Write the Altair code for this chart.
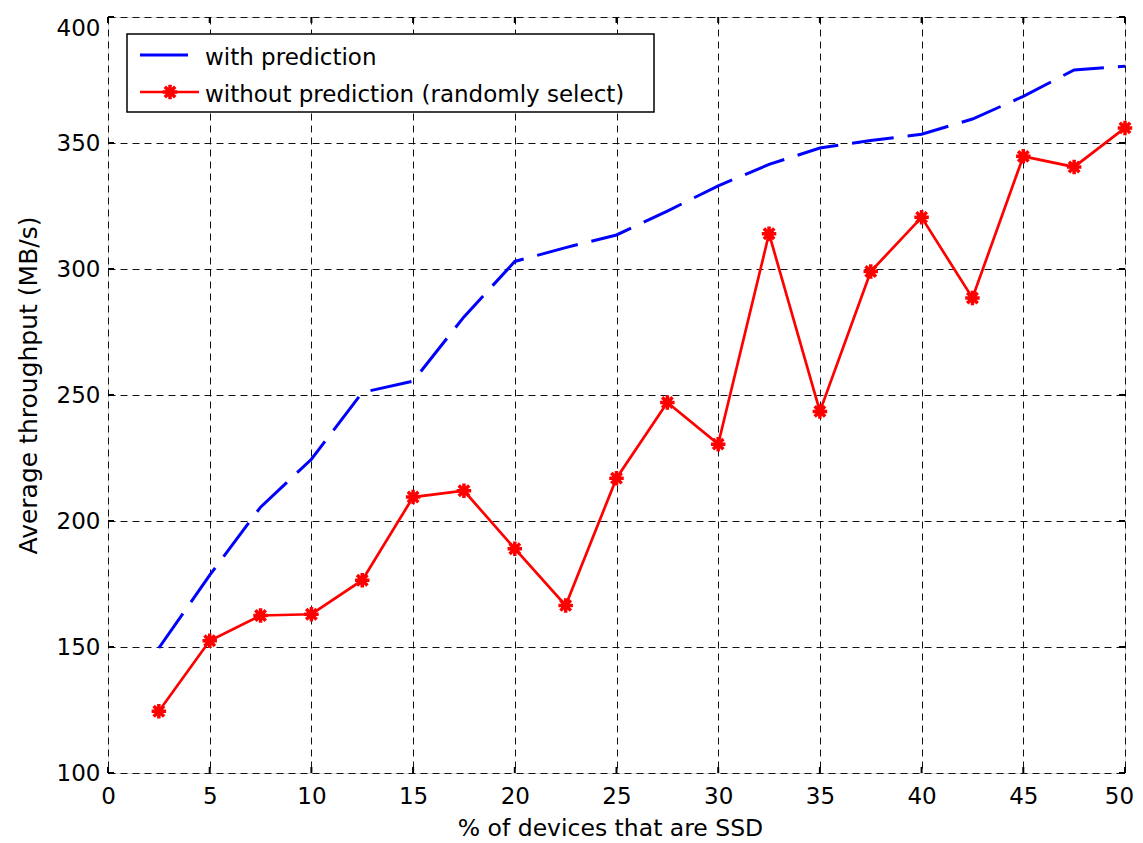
import altair as alt
import pandas as pd

# ---- data ----
ssd_pct = [2.5, 5, 7.5, 10, 12.5, 15, 17.5, 20, 22.5, 25,
           27.5, 30, 32.5, 35, 37.5, 40, 42.5, 45, 47.5, 50]
with_pred = [149.6, 178.5, 205.5, 224.5, 251, 255.5, 281, 303, 308.5, 313.5,
             323, 333, 341.5, 348, 351, 353.5, 359.5, 368.5, 379, 380.5]
without_pred = [124.5, 152.5, 162.5, 163, 176.5, 209.5, 212, 189, 166.5, 217,
                247, 230.5, 314, 243.5, 299, 320.5, 288.5, 344.7, 340.5, 356]
x_ticks = [0, 5, 10, 15, 20, 25, 30, 35, 40, 45, 50]
y_ticks = [100, 150, 200, 250, 300, 350, 400]
series_names = ["with prediction", "without prediction (randomly select)"]
x_title = "% of devices that are SSD"
y_title = "Average throughput (MB/s)"

W, H = 1017, 756
FONT = "DejaVu Sans"
STAR = "M-1,0L1,0M0,-1L0,1M-0.72,-0.72L0.72,0.72M-0.72,0.72L0.72,-0.72"

df = pd.DataFrame({"x": ssd_pct, "with": with_pred, "without": without_pred})
xt = pd.DataFrame({"x": x_ticks})
yt = pd.DataFrame({"y": y_ticks})
one = pd.DataFrame({"a": [0]})

xscale = alt.Scale(domain=[0, 50], nice=False, zero=False)
yscale = alt.Scale(domain=[100, 400], nice=False, zero=False)

xaxis = alt.Axis(values=x_ticks, format="d", title=x_title, grid=True,
                 gridDash=[7, 5], gridColor="#111", gridWidth=1, gridOpacity=1,
                 ticks=False, domain=False, labelFont=FONT, labelFontSize=23,
                 labelPadding=12, labelColor="black",
                 labelOffset={"condition": {"test": "datum.value == 50", "value": -6}, "value": 0},
                 titleFont=FONT,
                 titleFontSize=23.5, titleFontWeight="normal", titleColor="black",
                 titleX=502, titleY=62, titleBaseline="alphabetic",
                 titleAlign="center", labelFlush=False)
yaxis = alt.Axis(values=y_ticks, format="d", title=y_title, grid=True,
                 gridDash=[7, 5], gridColor="#111", gridWidth=1, gridOpacity=1,
                 ticks=False, domain=False, labelFont=FONT, labelFontSize=23,
                 labelPadding=8, labelColor="black",
                 labelBaseline={"condition": {"test": "datum.value == 400", "value": "top"}, "value": "middle"},
                 titleFont=FONT,
                 titleFontSize=25, titleFontWeight="normal", titleColor="black",
                 titleAngle=-90, titleX=-72, titleY=368,
                 titleBaseline="alphabetic", titleAlign="center", labelFlush=False)

X = alt.X("x:Q", scale=xscale, axis=xaxis)
Y_with = alt.Y("with:Q", scale=yscale, axis=yaxis)
Y_without = alt.Y("without:Q", scale=yscale, axis=yaxis)

base = alt.Chart(df)

blue = base.mark_line(color="#0000ff", strokeWidth=3, strokeDash=[42, 14]).encode(x=X, y=Y_with)
red = base.mark_line(color="#ff0000", strokeWidth=2.7).encode(x=X, y=Y_without)
red_pts = base.mark_point(shape=STAR, size=210, color="#ff0000", strokeWidth=3.5,
                          filled=False, opacity=1).encode(x=X, y=Y_without)

# inward tick marks on all four sides
xt_bottom = alt.Chart(xt).mark_rule(color="black", strokeWidth=2).encode(
    x=alt.X("x:Q", scale=xscale, axis=xaxis), y=alt.value(H), y2=alt.value(H - 6))
xt_top = alt.Chart(xt).mark_rule(color="black", strokeWidth=2).encode(
    x=alt.X("x:Q", scale=xscale, axis=xaxis), y=alt.value(0), y2=alt.value(6))
yt_left = alt.Chart(yt).mark_rule(color="black", strokeWidth=2).encode(
    y=alt.Y("y:Q", scale=yscale, axis=yaxis), x=alt.value(0), x2=alt.value(6))
yt_right = alt.Chart(yt).mark_rule(color="black", strokeWidth=2).encode(
    y=alt.Y("y:Q", scale=yscale, axis=yaxis), x=alt.value(W), x2=alt.value(W - 6))

# legend
leg_box = alt.Chart(one).mark_rect(fill="white", stroke="black", strokeWidth=1.5).encode(
    x=alt.value(19), x2=alt.value(546), y=alt.value(17), y2=alt.value(95))
leg_blue = alt.Chart(one).mark_rule(color="#0000ff", strokeWidth=3).encode(
    x=alt.value(32), x2=alt.value(80), y=alt.value(38))
leg_red = alt.Chart(one).mark_rule(color="#ff0000", strokeWidth=2.7).encode(
    x=alt.value(32), x2=alt.value(91), y=alt.value(75))
leg_star = alt.Chart(one).mark_point(shape=STAR, size=210, color="#ff0000",
                                     strokeWidth=3.5, filled=False, opacity=1).encode(
    x=alt.value(62), y=alt.value(75))
leg_t1 = alt.Chart(one).mark_text(text=series_names[0], font=FONT, fontSize=23,
                                  align="left", baseline="middle", color="black").encode(
    x=alt.value(97), y=alt.value(41))
leg_t2 = alt.Chart(one).mark_text(text=series_names[1], font=FONT, fontSize=23,
                                  align="left", baseline="middle", color="black").encode(
    x=alt.value(97), y=alt.value(78))

chart = alt.layer(
    blue, red, red_pts, xt_bottom, xt_top, yt_left, yt_right,
    leg_box, leg_blue, leg_red, leg_star, leg_t1, leg_t2
).properties(
    width=W, height=H,
    padding={"left": 100, "top": 9, "right": 10, "bottom": 68},
    autosize=alt.AutoSizeParams(type="none"),
).configure_view(
    stroke="black", strokeWidth=2.5
).configure(background="white")

chart.save("out.html", embed_options={"renderer": "svg", "actions": False})
